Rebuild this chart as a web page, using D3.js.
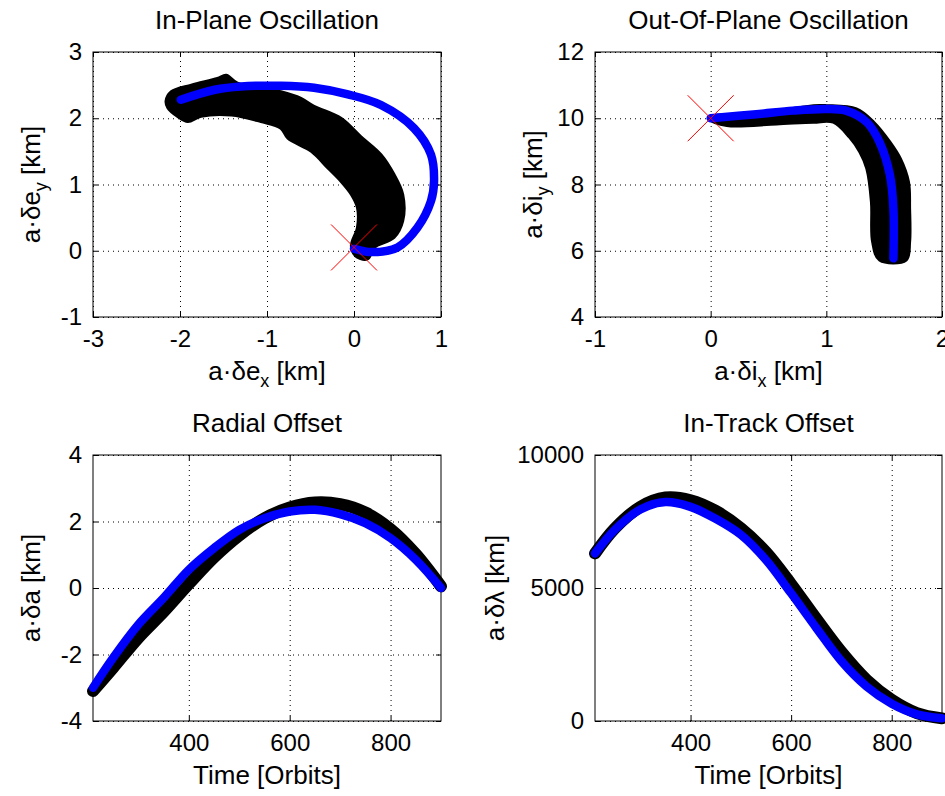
<!DOCTYPE html>
<html>
<head>
<meta charset="utf-8">
<script src="https://cdn.jsdelivr.net/npm/d3@7"></script>
<style>
body { margin: 0; background: #fff; }
svg { display: block; font-family: "Liberation Sans", Arial, sans-serif; }
</style>
</head>
<body>
<main></main>
<script>
// ---- data ----

// in-plane: black cloud outline (outer edge then inner edge), blue track
const inPlaneBlack = [
	[-2.16, 2.26], [-2.1, 2.4], [-1.87, 2.5], [-1.57, 2.6], [-1.47, 2.65], [-1.34, 2.53],
	[-0.84, 2.4], [-0.61, 2.3], [-0.46, 2.18], [-0.15, 2.0], [0.08, 1.72], [0.31, 1.45],
	[0.46, 1.15], [0.56, 0.85], [0.56, 0.45], [0.46, 0.2], [0.23, 0.05], [0.16, -0.12],
	[0.04, -0.1], [-0.03, 0.07], [0.04, 0.35], [0.04, 0.65], [-0.03, 0.85], [-0.15, 1.05],
	[-0.3, 1.25], [-0.49, 1.5], [-0.76, 1.7], [-0.84, 1.85], [-1.07, 1.95], [-1.41, 2.05],
	[-1.76, 2.03], [-1.91, 1.95], [-2.03, 2.03], [-2.14, 2.16]
];
const inPlaneBlue = [
	[0.0, 0.03], [0.2, -0.02], [0.5, 0.05], [0.73, 0.35], [0.885, 0.75], [0.92, 1.05],
	[0.885, 1.45], [0.69, 1.85], [0.31, 2.2], [-0.07, 2.36], [-0.46, 2.46], [-0.84, 2.49],
	[-1.3, 2.48], [-1.6, 2.43], [-1.99, 2.28]
];
const inPlaneStart = [0, 0.05];

// out-of-plane
const outPlaneBlack = [
	[0.0, 10.05], [0.4, 10.12], [0.89, 10.38], [1.0, 10.38], [1.26, 10.28], [1.41, 9.88],
	[1.55, 9.28], [1.64, 8.78], [1.71, 8.08], [1.72, 7.27], [1.72, 6.27], [1.69, 5.72],
	[1.46, 5.72], [1.4, 6.27], [1.39, 7.47], [1.35, 8.48], [1.29, 8.98], [1.2, 9.43],
	[1.06, 9.88], [0.89, 9.88], [0.57, 9.83], [0.14, 9.78], [0.0, 9.95]
];
const outPlaneBlue = [
	[0.0, 10.0], [0.42, 10.13], [0.71, 10.23], [1.0, 10.28], [1.17, 10.23], [1.35, 9.88],
	[1.46, 9.28], [1.55, 8.28], [1.58, 7.27], [1.58, 5.77]
];
const outPlaneStart = [0, 10];

// time histories
const orbits = [210, 250, 300, 350, 400, 450, 500, 550, 600, 650, 700, 750, 800, 850, 900];
const radialBlack = [-3.1, -2.4, -1.5, -0.72, 0.12, 0.92, 1.58, 2.1, 2.42, 2.57, 2.52, 2.27, 1.77, 1.02, 0.05];
const radialBlue = [-3.0, -2.1, -1.1, -0.3, 0.55, 1.2, 1.75, 2.1, 2.3, 2.35, 2.22, 1.95, 1.5, 0.85, 0.0];
const trackBlack = [6300, 7250, 8050, 8400, 8300, 7900, 7250, 6350, 5150, 3850, 2600, 1550, 800, 300, 100];
const trackBlue = [6300, 7200, 7950, 8230, 8050, 7600, 7000, 6050, 4800, 3500, 2250, 1300, 650, 250, 100];

// ticks
const inPlaneXTicks = [-3, -2, -1, 0, 1];
const inPlaneYTicks = [-1, 0, 1, 2, 3];
const outPlaneXTicks = [-1, 0, 1, 2];
const outPlaneYTicks = [4, 6, 8, 10, 12];
const timeTicks = [400, 600, 800];
const radialTicks = [-4, -2, 0, 2, 4];
const trackTicks = [0, 5000, 10000];

const zipTime = vals => orbits.map((t, i) => [t, vals[i]]);

// ---- drawing ----
const W = 945, H = 796;
const svg = d3.select("main").append("svg")
	.attr("width", W).attr("height", H)
	.attr("viewBox", `0 0 ${W} ${H}`);

let label = (sel, main, sub, tail) => {
	sel.append("tspan").text(main);
	if (sub) {
		sel.append("tspan").attr("font-size", 18).attr("dy", 7).text(sub);
		sel.append("tspan").attr("dy", -7).text(tail);
	}
};

let drawPanel = (cfg) => {
	const b = cfg.box;
	const x = d3.scaleLinear().domain(cfg.xDomain).range([b.left, b.right]);
	const y = d3.scaleLinear().domain(cfg.yDomain).range([b.bottom, b.top]);
	const g = svg.append("g");
	const fmt = d => String(d);

	// dotted grid
	g.append("g")
		.attr("transform", `translate(0,${b.bottom})`)
		.call(d3.axisBottom(x).tickValues(cfg.xTicks).tickSize(-(b.bottom - b.top)).tickFormat(""))
		.call(g => g.select(".domain").remove())
		.selectAll("line").attr("stroke", "#000").attr("stroke-dasharray", "1,4");
	g.append("g")
		.attr("transform", `translate(${b.left},0)`)
		.call(d3.axisLeft(y).tickValues(cfg.yTicks).tickSize(-(b.right - b.left)).tickFormat(""))
		.call(g => g.select(".domain").remove())
		.selectAll("line").attr("stroke", "#000").attr("stroke-dasharray", "1,4");

	// box
	g.append("rect")
		.attr("x", b.left).attr("y", b.top)
		.attr("width", b.right - b.left).attr("height", b.bottom - b.top)
		.attr("fill", "none").attr("stroke", "#000");

	// tick marks on all sides + labels
	let axes = [
		[d3.axisBottom(x).tickValues(cfg.xTicks).tickSizeInner(-5).tickSizeOuter(0).tickPadding(13).tickFormat(fmt), `translate(0,${b.bottom})`],
		[d3.axisTop(x).tickValues(cfg.xTicks).tickSizeInner(-5).tickSizeOuter(0).tickFormat(""), `translate(0,${b.top})`],
		[d3.axisLeft(y).tickValues(cfg.yTicks).tickSizeInner(-5).tickSizeOuter(0).tickPadding(11).tickFormat(fmt), `translate(${b.left},0)`],
		[d3.axisRight(y).tickValues(cfg.yTicks).tickSizeInner(-5).tickSizeOuter(0).tickFormat(""), `translate(${b.right},0)`]
	];
	axes.forEach(([ax, tr]) => {
		g.append("g").attr("transform", tr).call(ax)
			.call(g => g.select(".domain").remove())
			.call(g => g.selectAll("text").attr("font-size", 24).attr("font-family", null).attr("fill", "#000"));
	});

	// data
	let line = d3.line().x(d => x(d[0])).y(d => y(d[1]));
	if (cfg.blackArea) {
		g.append("path")
			.datum(cfg.blackArea)
			.attr("d", line.curve(d3.curveCatmullRomClosed))
			.attr("fill", "#000").attr("stroke", "#000").attr("stroke-width", 3)
			.attr("stroke-linejoin", "round");
	}
	if (cfg.blackLine) {
		g.append("path")
			.datum(cfg.blackLine)
			.attr("d", line.curve(d3.curveCatmullRom))
			.attr("fill", "none").attr("stroke", "#000").attr("stroke-width", 12)
			.attr("stroke-linecap", "round").attr("stroke-linejoin", "round");
	}
	g.append("path")
		.datum(cfg.blue)
		.attr("d", line.curve(d3.curveCatmullRom))
		.attr("fill", "none").attr("stroke", "#0000ff").attr("stroke-width", 8.5)
		.attr("stroke-linecap", "round").attr("stroke-linejoin", "round");

	if (cfg.start) {
		const cx = x(cfg.start[0]), cy = y(cfg.start[1]), r = 23;
		g.append("path")
			.attr("d", `M${cx - r},${cy - r}L${cx + r},${cy + r}M${cx + r},${cy - r}L${cx - r},${cy + r}`)
			.attr("stroke", "#ff0000").attr("stroke-width", 1).attr("fill", "none");
	}

	// texts
	const cxm = (b.left + b.right) / 2, cym = (b.top + b.bottom) / 2;
	g.append("text")
		.attr("x", cxm).attr("y", b.top - 23)
		.attr("text-anchor", "middle").attr("font-size", 26)
		.text(cfg.title);
	g.append("text")
		.attr("x", cxm).attr("y", b.bottom + 63)
		.attr("text-anchor", "middle").attr("font-size", 26)
		.call(label, ...cfg.xLabel);
	g.append("text")
		.attr("transform", `translate(${cfg.yLabelX},${cym}) rotate(-90)`)
		.attr("text-anchor", "middle").attr("font-size", 26)
		.call(label, ...cfg.yLabel);
};

const topRow = {top: 52, bottom: 317}, botRow = {top: 455, bottom: 721};
const leftCol = {left: 93, right: 441}, rightCol = {left: 595, right: 942};

drawPanel({
	box: {...leftCol, ...topRow},
	xDomain: [-3, 1], yDomain: [-1, 3],
	xTicks: inPlaneXTicks, yTicks: inPlaneYTicks,
	blackArea: inPlaneBlack, blue: inPlaneBlue, start: inPlaneStart,
	title: "In-Plane Oscillation",
	xLabel: ["a·δe", "x", " [km]"], yLabel: ["a·δe", "y", " [km]"], yLabelX: 40
});
drawPanel({
	box: {...rightCol, ...topRow},
	xDomain: [-1, 2], yDomain: [4, 12],
	xTicks: outPlaneXTicks, yTicks: outPlaneYTicks,
	blackArea: outPlaneBlack, blue: outPlaneBlue, start: outPlaneStart,
	title: "Out-Of-Plane Oscillation",
	xLabel: ["a·δi", "x", " [km]"], yLabel: ["a·δi", "y", " [km]"], yLabelX: 542
});
drawPanel({
	box: {...leftCol, ...botRow},
	xDomain: [210, 900], yDomain: [-4, 4],
	xTicks: timeTicks, yTicks: radialTicks,
	blackLine: zipTime(radialBlack), blue: zipTime(radialBlue),
	title: "Radial Offset",
	xLabel: ["Time [Orbits]"], yLabel: ["a·δa [km]"], yLabelX: 40
});
drawPanel({
	box: {...rightCol, ...botRow},
	xDomain: [210, 900], yDomain: [0, 10000],
	xTicks: timeTicks, yTicks: trackTicks,
	blackLine: zipTime(trackBlack), blue: zipTime(trackBlue),
	title: "In-Track Offset",
	xLabel: ["Time [Orbits]"], yLabel: ["a·δλ [km]"], yLabelX: 504
});
</script>
</body>
</html>
